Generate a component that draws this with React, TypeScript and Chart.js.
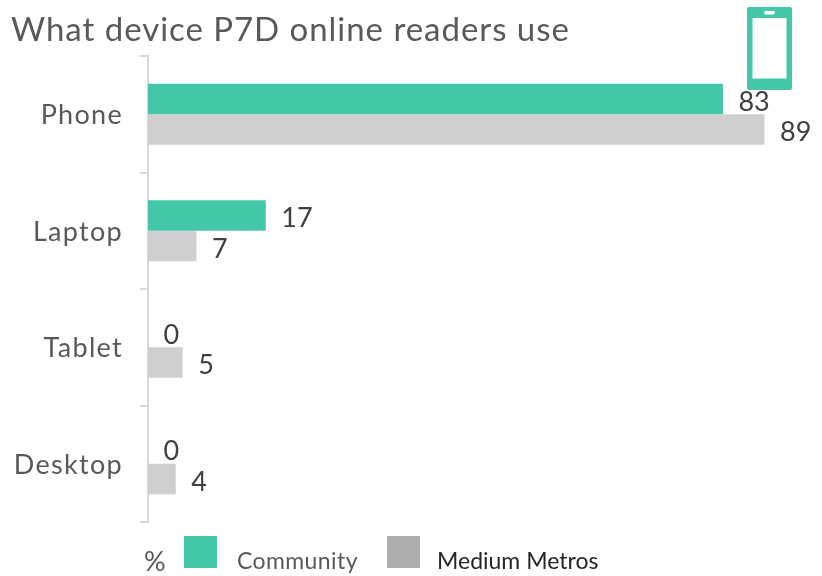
import React, { useEffect, useRef } from "react";
import { Chart, registerables } from "chart.js";

Chart.register(...registerables);

const categories = ["Phone", "Laptop", "Tablet", "Desktop"];
const communityValues = [83, 17, 0, 0];
const metrosValues = [89, 7, 5, 4];
const seriesNames = ["Community", "Medium Metros"];
const titleText = "What device P7D online readers use";
const unitText = "%";

const TEAL = "#44C6A8";
const BAR_GREY = "#D0CECE";
const LEGEND_GREY = "#AEAEAE";
const FONT = "Lato, 'Noto Sans', sans-serif";

const decorations = {
  id: "decorations",
  beforeDraw(chart: any) {
    chart.ctx.letterSpacing = "1.3px";
  },
  afterDraw(chart: any) {
    const ctx = chart.ctx;
    ctx.save();
    // value labels
    ctx.font = `27px ${FONT}`;
    ctx.letterSpacing = "0px";
    ctx.fillStyle = "#404040";
    ctx.textAlign = "left";
    ctx.textBaseline = "middle";
    chart.data.datasets.forEach((ds: any, i: number) => {
      chart.getDatasetMeta(i).data.forEach((bar: any, j: number) => {
        ctx.fillText(String(ds.data[j]), bar.x + 15.5, bar.y + 3);
      });
    });
    // title
    ctx.textBaseline = "alphabetic";
    ctx.font = `33px ${FONT}`;
    ctx.letterSpacing = "0.96px";
    ctx.fillStyle = "#595959";
    ctx.fillText(titleText, 11, 41);
    // unit
    ctx.font = `27px ${FONT}`;
    ctx.letterSpacing = "0px";
    ctx.fillText(unitText, 144, 571);
    // legend
    ctx.fillStyle = TEAL;
    ctx.fillRect(184, 536, 33, 32);
    ctx.fillStyle = LEGEND_GREY;
    ctx.fillRect(387, 536, 33, 32);
    ctx.font = `23px ${FONT}`;
    ctx.letterSpacing = "0.4px";
    ctx.fillStyle = "#595959";
    ctx.fillText(seriesNames[0], 237, 569);
    ctx.letterSpacing = "0px";
    ctx.fillStyle = "#262626";
    ctx.fillText(seriesNames[1], 437, 569);
    // phone icon
    ctx.fillStyle = TEAL;
    ctx.beginPath();
    ctx.roundRect(747, 7, 45, 83, 2);
    ctx.fill();
    ctx.fillStyle = "#FFFFFF";
    ctx.fillRect(752.5, 18, 34, 60.5);
    ctx.beginPath();
    ctx.roundRect(764, 11, 11, 3.5, 1.75);
    ctx.fill();
    ctx.restore();
  },
};

export default function App() {
  const ref = useRef<HTMLCanvasElement>(null);
  useEffect(() => {
    const chart = new Chart(ref.current!, {
      type: "bar",
      data: {
        labels: categories,
        datasets: [
          { label: seriesNames[0], data: communityValues, backgroundColor: TEAL },
          { label: seriesNames[1], data: metrosValues, backgroundColor: BAR_GREY },
        ],
      },
      options: {
        indexAxis: "y",
        responsive: false,
        animation: false,
        layout: { padding: { top: 56, bottom: 54, right: 9, left: 0 } },
        datasets: { bar: { categoryPercentage: 0.524, barPercentage: 1 } },
        plugins: { legend: { display: false }, title: { display: false }, tooltip: { enabled: false } },
        scales: {
          x: { display: false, min: 0, max: 96 },
          y: {
            afterFit(scale: any) {
              scale.width = 148;
            },
            border: { color: "#D9D9D9", width: 2 },
            grid: { drawOnChartArea: false, color: "#D9D9D9", lineWidth: 2, tickLength: 8 },
            ticks: { color: "#595959", font: { family: FONT, size: 27 }, padding: 17, labelOffset: 1.5 },
          },
        },
      },
      plugins: [decorations],
    } as any);
    return () => chart.destroy();
  }, []);
  return (
    <canvas
      ref={ref}
      width={822}
      height={576}
      style={{ position: "absolute", left: 0, top: 0, width: 822, height: 576 }}
    />
  );
}
